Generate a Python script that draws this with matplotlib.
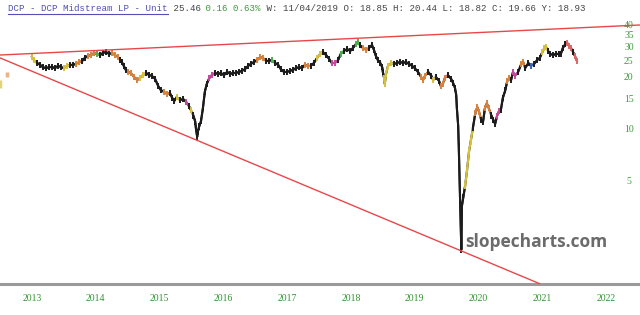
import matplotlib
matplotlib.use("Agg")
import matplotlib.pyplot as plt
from matplotlib.collections import LineCollection
from matplotlib.lines import Line2D
import numpy as np

# weekly-ish closes (decimal year, price)
years = [2013.50, 2013.53, 2013.58, 2013.63, 2013.67, 2013.72, 2013.77, 2013.82, 2013.86, 2013.91,
         2013.96, 2014.00, 2014.05, 2014.10, 2014.14, 2014.19, 2014.24, 2014.29, 2014.33, 2014.38,
         2014.43, 2014.47, 2014.52, 2014.57, 2014.61, 2014.66, 2014.71, 2014.76, 2014.80, 2014.85,
         2014.88, 2014.91, 2014.94, 2014.97, 2015.01, 2015.05, 2015.10, 2015.15, 2015.19, 2015.24,
         2015.29, 2015.34, 2015.38, 2015.43, 2015.48, 2015.52, 2015.57, 2015.62, 2015.66, 2015.70,
         2015.73, 2015.77, 2015.82, 2015.87, 2015.92, 2015.96, 2015.99, 2016.03, 2016.06, 2016.07,
         2016.09, 2016.10, 2016.12, 2016.15, 2016.18, 2016.21, 2016.24, 2016.28, 2016.32, 2016.37,
         2016.42, 2016.46, 2016.51, 2016.56, 2016.61, 2016.65, 2016.70, 2016.75, 2016.79, 2016.84,
         2016.89, 2016.93, 2016.98, 2017.03, 2017.08, 2017.12, 2017.17, 2017.22, 2017.26, 2017.31,
         2017.36, 2017.40, 2017.45, 2017.50, 2017.55, 2017.59, 2017.64, 2017.69, 2017.73, 2017.78,
         2017.83, 2017.87, 2017.92, 2017.97, 2018.02, 2018.06, 2018.11, 2018.16, 2018.20, 2018.25,
         2018.30, 2018.34, 2018.39, 2018.44, 2018.49, 2018.53, 2018.58, 2018.61, 2018.64, 2018.69,
         2018.74, 2018.78, 2018.83, 2018.86, 2018.89, 2018.92, 2018.96, 2018.99, 2019.00, 2019.02,
         2019.03, 2019.05, 2019.08, 2019.13, 2019.18, 2019.22, 2019.27, 2019.32, 2019.36, 2019.41,
         2019.46, 2019.50, 2019.55, 2019.60, 2019.63, 2019.66, 2019.71, 2019.76, 2019.79, 2019.83,
         2019.88, 2019.91, 2019.94, 2019.97, 2020.02, 2020.07, 2020.10, 2020.13, 2020.15, 2020.16,
         2020.18, 2020.19, 2020.21, 2020.23, 2020.24, 2020.26, 2020.29, 2020.32, 2020.35, 2020.38,
         2020.41, 2020.45, 2020.48, 2020.51, 2020.54, 2020.57, 2020.60, 2020.63, 2020.66, 2020.70,
         2020.73, 2020.76, 2020.79, 2020.82, 2020.85, 2020.88, 2020.92, 2020.95, 2020.98, 2021.01,
         2021.04, 2021.07, 2021.12, 2021.17, 2021.20, 2021.23, 2021.28, 2021.32, 2021.37, 2021.42,
         2021.46, 2021.50, 2021.53, 2021.56, 2021.59, 2021.62, 2021.67, 2021.71, 2021.76, 2021.79,
         2021.82, 2021.86, 2021.89, 2021.92, 2021.95, 2021.98, 2022.01, 2022.04]
closes = [26.1, 25.1, 24.1, 23.5, 22.8, 22.5, 22.8, 22.8, 22.5, 23.2,
          22.8, 22.5, 23.2, 23.5, 23.5, 23.8, 24.4, 24.8, 25.8, 26.5,
          26.8, 27.5, 27.2, 26.8, 27.5, 27.9, 27.2, 27.5, 26.8, 26.1,
          25.1, 24.4, 23.2, 22.0, 21.4, 21.1, 20.0, 19.2, 19.7, 20.5,
          21.1, 20.5, 20.3, 19.5, 17.7, 16.8, 16.4, 15.9, 16.2, 15.1,
          14.5, 15.3, 14.7, 14.9, 14.3, 13.6, 12.9, 12.0, 11.0, 10.1,
          9.0, 9.6, 10.3, 11.1, 13.2, 16.4, 18.2, 19.7, 20.5, 21.1,
          20.8, 21.1, 20.5, 21.4, 20.8, 21.1, 21.1, 21.4, 21.7, 22.2,
          23.2, 23.8, 24.4, 25.1, 26.1, 25.8, 24.8, 24.8, 25.1, 24.1,
          23.5, 22.2, 21.4, 21.4, 21.7, 22.0, 22.5, 22.8, 22.5, 23.5,
          23.2, 23.2, 24.1, 25.8, 27.2, 27.9, 26.8, 25.4, 24.1, 24.1,
          25.1, 27.2, 28.3, 29.0, 28.3, 29.4, 31.0, 31.9, 30.6, 29.4,
          28.7, 29.4, 30.6, 28.7, 26.5, 25.1, 24.1, 22.8, 21.4, 19.7,
          18.2, 20.8, 23.2, 24.1, 23.8, 24.1, 24.4, 24.1, 24.4, 23.8,
          23.2, 22.5, 21.4, 20.0, 19.2, 20.3, 21.4, 20.3, 19.2, 20.0,
          19.0, 17.7, 18.2, 19.7, 20.5, 19.5, 18.5, 17.3, 15.7, 13.2,
          10.5, 7.9, 3.9, 2.0, 3.6, 4.0, 4.7, 5.8, 7.4, 8.6,
          10.1, 12.4, 13.4, 12.5, 11.3, 11.0, 13.2, 14.1, 13.2, 12.0,
          11.3, 10.7, 11.9, 12.7, 12.9, 15.1, 16.8, 19.0, 19.7, 19.2,
          21.4, 20.3, 21.4, 23.8, 24.4, 22.5, 24.1, 23.2, 23.8, 25.1,
          25.8, 27.9, 29.4, 29.8, 28.3, 27.2, 26.8, 27.2, 27.2, 27.2,
          29.4, 31.0, 31.5, 30.2, 29.4, 27.9, 26.5, 24.8]

# two stray candles at the far left (year, low, high)
stray_years = [2013.00, 2013.11]
stray_low = [17.3, 20.0]
stray_high = [19.2, 21.4]

# trend lines (two end points each)
upper_x = [2013.00, 2023.03]
upper_y = [26.8, 40.0]
lower_x = [2013.00, 2021.46]
lower_y = [25.8, 1.27]

ytick_vals = [5, 10, 15, 20, 25, 30, 35, 40]
xtick_years = [2013, 2014, 2015, 2016, 2017, 2018, 2019, 2020, 2021, 2022]

# coloured candle stretches (from, to, colour)
ORANGE, YELLOW, PINK, GREEN, BLUE, RED = "#d9823b", "#d6c23a", "#c8489e", "#4caf50", "#4062c0", "#e06666"
highlights = [
    (2013.50, 2013.53, YELLOW), (2014.00, 2014.05, YELLOW), (2014.19, 2014.25, ORANGE),
    (2014.38, 2014.47, ORANGE), (2014.49, 2014.52, GREEN), (2014.76, 2014.85, ORANGE),
    (2015.01, 2015.15, ORANGE), (2015.19, 2015.24, YELLOW), (2015.55, 2015.62, ORANGE),
    (2015.76, 2015.79, YELLOW), (2015.90, 2015.95, PINK), (2015.98, 2016.01, YELLOW),
    (2016.28, 2016.32, PINK), (2017.01, 2017.12, ORANGE), (2017.23, 2017.28, GREEN),
    (2017.78, 2017.86, ORANGE), (2017.95, 2018.02, YELLOW), (2018.17, 2018.25, PINK),
    (2018.33, 2018.38, GREEN), (2018.56, 2018.63, GREEN), (2018.67, 2018.77, ORANGE),
    (2019.02, 2019.05, YELLOW), (2019.08, 2019.14, YELLOW), (2019.58, 2019.66, ORANGE),
    (2019.77, 2019.80, YELLOW), (2019.91, 2019.97, ORANGE), (2020.29, 2020.38, YELLOW),
    (2020.45, 2020.51, ORANGE), (2020.60, 2020.66, ORANGE), (2020.79, 2020.84, PINK),
    (2020.95, 2020.99, ORANGE), (2021.04, 2021.07, PINK), (2021.17, 2021.20, ORANGE),
    (2021.31, 2021.35, BLUE), (2021.48, 2021.56, YELLOW), (2021.89, 2021.97, RED),
    (2022.01, 2022.04, RED),
]
BLACK = "#1c1c1c"

fig = plt.figure(figsize=(6.4, 3.15), dpi=100)
ax = fig.add_axes([0, 31 / 315, 1, 266 / 315])
ax.set_yscale("log")
ax.set_xlim(2013.0, 2023.03)
ax.set_ylim(1.266, 43.9)

x = np.array(years)
y = np.array(closes)
pts = np.column_stack([x, y]).reshape(-1, 1, 2)
segs = np.concatenate([pts[:-1], pts[1:]], axis=1)
cols = []
for i in range(len(x)):
    c = BLACK
    for a, b, hc in highlights:
        if a <= x[i] <= b:
            c = hc
    cols.append(c)
ax.plot(x, y, color=BLACK, lw=1.5, zorder=2)
ax.add_collection(LineCollection(segs, colors=cols[:-1], linewidths=1.5, zorder=3))
# candle-ish ticks at every close
ax.scatter(x, y, marker="|", s=22, linewidths=1.4, c=cols, zorder=3)

ax.vlines(stray_years[0], stray_low[0], stray_high[0], color=YELLOW, lw=2.5, alpha=0.7)
ax.vlines(stray_years[1], stray_low[1], stray_high[1], color=ORANGE, lw=2.5, alpha=0.6)

ax.plot(upper_x, upper_y, color="#e8474a", lw=1.0, zorder=4)
ax.plot(lower_x, lower_y, color="#e8474a", lw=1.0, zorder=4)

for s in ["top", "left", "right"]:
    ax.spines[s].set_visible(False)
ax.spines["bottom"].set_color("#9a9a9a")
ax.spines["bottom"].set_linewidth(2.2)

ax.yaxis.tick_right()
ax.set_yticks(ytick_vals)
ax.set_yticklabels([str(v) for v in ytick_vals])
ax.yaxis.set_minor_locator(matplotlib.ticker.NullLocator())
ax.tick_params(axis="y", length=0, pad=-8, labelsize=7, labelcolor="#3d9a3d")
for t in ax.get_yticklabels():
    t.set_horizontalalignment("center")
    t.set_fontfamily("Liberation Serif")

ax.set_xticks([yr + 0.5 for yr in xtick_years])
ax.set_xticklabels([str(yr) for yr in xtick_years])
ax.tick_params(axis="x", length=0, pad=7, labelsize=7, labelcolor="#2f962f")
for t in ax.get_xticklabels():
    t.set_fontfamily("Liberation Serif")

# header line
cw = 5.5
pieces = [("DCP - DCP Midstream LP - Unit", "#5050b8"), (" 25.46", "#444444"),
          (" 0.16 0.63%", "#3d9a3d"),
          (" W: 11/04/2019 O: 18.85 H: 20.44 L: 18.82 C: 19.66 Y: 18.93", "#444444")]
pos = 8
for txt, c in pieces:
    fig.text(pos / 640, 1 - 8.5 / 315, txt, color=c, fontsize=6.6,
             family="Liberation Mono", va="center", ha="left")
    pos += len(txt) * cw
fig.add_artist(Line2D([8 / 640, (8 + 29 * cw) / 640], [1 - 14 / 315, 1 - 14 / 315],
                      color="#5050b8", lw=0.8))

fig.text(465 / 640, 1 - 242 / 315, "slopecharts.com", color="#6b6b6b", fontsize=12.5,
         fontweight="bold", family="Open Sans", va="center", ha="left")

fig.savefig("out.png", dpi=100)
